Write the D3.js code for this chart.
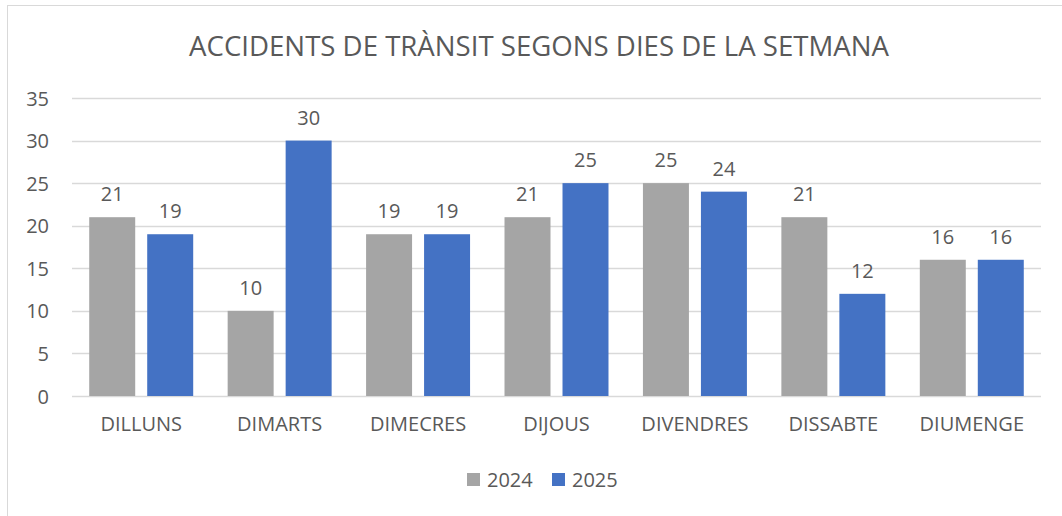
<!DOCTYPE html>
<html lang="ca">
<head>
<meta charset="UTF-8">
<title>accidents</title>
<script src="https://cdn.jsdelivr.net/npm/d3@7"></script>
<style>
  body { margin: 0; background: #fff; }
  text { font-family: "Open Sans", "Noto Sans", sans-serif; fill: #595959; }
</style>
</head>
<body>
<div id="chart"></div>
<script>
const dies = ["DILLUNS", "DIMARTS", "DIMECRES", "DIJOUS", "DIVENDRES", "DISSABTE", "DIUMENGE"];
const anys = ["2024", "2025"];
const valors2024 = [21, 10, 19, 21, 25, 21, 16];
const valors2025 = [19, 30, 19, 25, 24, 12, 16];
const yTicks = [0, 5, 10, 15, 20, 25, 30, 35];
const colors = { "2024": "#A5A5A5", "2025": "#4472C4" };

const W = 1062, H = 516;
const svg = d3.select("#chart").append("svg").attr("width", W).attr("height", H);

// marc del gràfic
svg.append("rect")
  .attr("x", 7.5).attr("y", 5.5)
  .attr("width", W).attr("height", H)
  .attr("fill", "#fff").attr("stroke", "#d9d9d9");

const plot = { left: 72, right: 1041, top: 98, bottom: 396 };

const x0 = d3.scaleBand().domain(dies).range([plot.left, plot.right]);
const x1 = d3.scaleBand().domain(anys).range([0, x0.bandwidth()])
  .paddingInner(0.207).paddingOuter(0.297);
const y = d3.scaleLinear().domain([0, 35]).range([plot.bottom, plot.top]);

// títol
svg.append("text")
  .attr("x", 539).attr("y", 56)
  .attr("text-anchor", "middle")
  .style("font-size", "27.6px")
  .text("ACCIDENTS DE TRÀNSIT SEGONS DIES DE LA SETMANA");

// graella
svg.append("g").selectAll("line").data(yTicks).join("line")
  .attr("x1", plot.left).attr("x2", plot.right)
  .attr("y1", d => Math.round(y(d)) + 0.5).attr("y2", d => Math.round(y(d)) + 0.5)
  .attr("stroke", "#d9d9d9").attr("stroke-width", 1.5);

// eix y
const yAxis = svg.append("g")
  .attr("transform", "translate(" + (plot.left - 23) + ",0)")
  .call(d3.axisLeft(y).tickValues(yTicks).tickSize(0).tickPadding(0));
yAxis.select(".domain").remove();
yAxis.selectAll("text").style("font-size", "20px").attr("fill", "#595959").attr("dy", "0.35em");

// eix x
const xAxis = svg.append("g")
  .attr("transform", "translate(0," + plot.bottom + ")")
  .call(d3.axisBottom(x0).tickSize(0).tickPadding(21));
xAxis.select(".domain").remove();
xAxis.selectAll("text").style("font-size", "20px").attr("fill", "#595959");

// barres
const rows = dies.map((d, i) => ({ dia: d, vals: [
  { any: "2024", v: valors2024[i] },
  { any: "2025", v: valors2025[i] }
]}));

const grp = svg.append("g").selectAll("g").data(rows).join("g")
  .attr("transform", d => "translate(" + x0(d.dia) + ",0)");

grp.selectAll("rect").data(d => d.vals).join("rect")
  .attr("x", d => x1(d.any))
  .attr("width", x1.bandwidth())
  .attr("y", d => y(d.v))
  .attr("height", d => y(0) - y(d.v))
  .attr("fill", d => colors[d.any]);

grp.selectAll("text").data(d => d.vals).join("text")
  .attr("x", d => x1(d.any) + x1.bandwidth() / 2)
  .attr("y", d => y(d.v) - 16)
  .attr("text-anchor", "middle")
  .style("font-size", "20px")
  .text(d => d.v);

// llegenda
const leg = svg.append("g").attr("transform", "translate(467,473)");
const legX = [0, 85];
anys.forEach((a, i) => {
  leg.append("rect").attr("x", legX[i]).attr("y", 0).attr("width", 13).attr("height", 13).attr("fill", colors[a]);
  leg.append("text").attr("x", legX[i] + 20).attr("y", 14).style("font-size", "20px").text(a);
});
</script>
</body>
</html>
